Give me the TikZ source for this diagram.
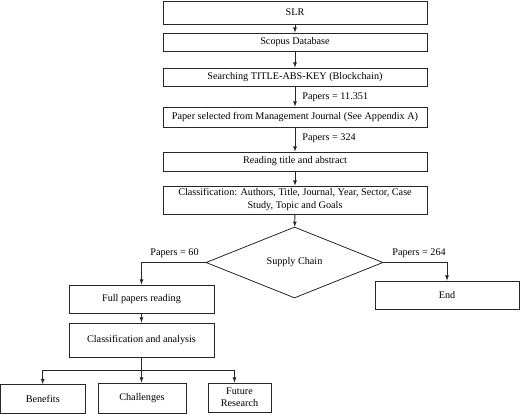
\documentclass[tikz,border=0pt]{standalone}
\usepackage{fontspec}
\setmainfont{Liberation Serif}
\usepackage{tikz}
\usetikzlibrary{shapes.geometric}
\usetikzlibrary{calc}
\usetikzlibrary{arrows}

\tikzset{
  stepbox/.style={draw, inner sep=0pt, align=center,
    font=\fontsize{10.2}{13}\selectfont},
  flow/.style={-latex, line width=0.8pt, draw=black!85},
  count/.style={inner sep=0pt, font=\fontsize{10.2}{12}\selectfont}
}

\begin{document}
\begin{tikzpicture}[x=1pt, y=-1pt, line width=0.8pt, draw=black!85]
      \useasboundingbox (0,0) rectangle (520,415);
      \node[stepbox, minimum width=264pt, minimum height=23pt] (slr) at (295,12.5) {SLR};
      \node[stepbox, minimum width=264pt, minimum height=18pt] (scopus) at (295,42) {Scopus Database};
      \node[stepbox, minimum width=264pt, minimum height=18pt] (search) at (295,77) {Searching TITLE-ABS-KEY (Blockchain)};
      \node[stepbox, minimum width=264pt, minimum height=20pt] (select) at (295,117) {Paper selected from Management Journal (See Appendix A)};
      \node[stepbox, minimum width=264pt, minimum height=19pt] (read) at (295,161.5) {Reading title and abstract};
      \node[stepbox, minimum width=264pt, minimum height=28pt] (classif) at (295,200)
        {Classification: Authors, Title, Journal, Year, Sector, Case\\Study, Topic and Goals};
      \node[draw,
        diamond,
        aspect=2.5,
        inner sep=0pt,
        minimum width=177pt,
        minimum height=71pt,
        font=\fontsize{10.2}{12}\selectfont] (choice) at (294.5,262.5) {Supply Chain};
      \node[stepbox, minimum width=145pt, minimum height=28pt] (full) at (141.5,299) {Full papers reading};
      \node[stepbox, minimum width=145pt, minimum height=34pt] (analysis) at (141.5,340) {Classification and analysis};
      \node[stepbox, minimum width=144pt, minimum height=28pt] (end) at (447,295) {End};
      \node[stepbox, minimum width=84.5pt, minimum height=29pt] (benefits) at (42.75,399) {Benefits};
      \node[stepbox, minimum width=88pt, minimum height=30pt] (challenges) at (142,398) {Challenges};
      \node[stepbox, minimum width=63pt, minimum height=29pt,
        font=\fontsize{10.2}{12}\selectfont] (future) at (239.5,397.5) {Future\\Research};
      \node[count, anchor=west] (n1) at (302,97) {Papers = 11.351};
      \node[count, anchor=west] (n2) at (302,138) {Papers = 324};
      \node[count, anchor=east] (n3) at (199,253) {Papers = 60};
      \node[count, anchor=west] (n4) at (392,253) {Papers = 264};
      \coordinate (split) at (141.5,370);
      \foreach \a/\b in {slr/scopus,scopus/search,search/select,select/read,read/classif,classif/choice,full/analysis}
        \draw[flow] (\a) -- (\b);
      \draw[flow] (choice.west) -| (full.north);
      \draw[flow] (choice.east) -| (end.north);
      \draw (analysis.south) -- (split);
      \draw[flow] (split) -| (benefits.north);
      \draw[flow] (split) -- (split |- challenges.north);
      \draw[flow] (split) -| ([xshift=-5pt]future.north);
    \end{tikzpicture}
\end{document}
